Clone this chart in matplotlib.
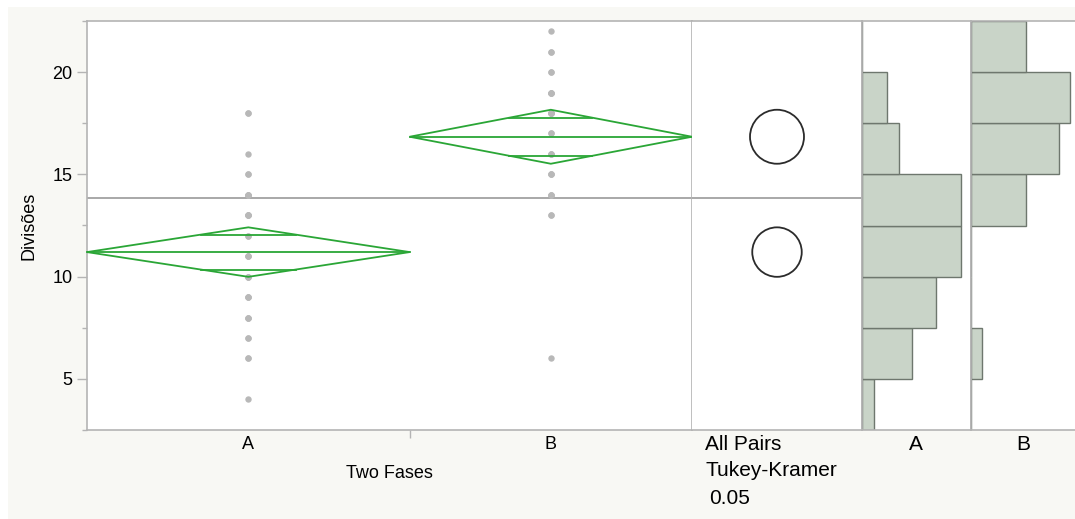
import numpy as np
import matplotlib
matplotlib.use("Agg")
import matplotlib.pyplot as plt
from matplotlib.patches import Polygon, Circle, Rectangle

plt.rcParams['font.family'] = ['Liberation Sans', 'DejaVu Sans']

# ---------------- data ----------------
groups = ["A", "B"]
values_A = [4, 6, 6, 7, 7, 8, 8, 8, 9, 9, 9, 10, 10, 10, 11, 11, 11, 12, 12,
            13, 13, 13, 13, 14, 14, 14, 14, 15, 15, 16, 18, 18]
values_B = [6, 13, 13, 14, 14, 14, 15, 15, 15, 16, 16, 16, 17, 17,
            18, 18, 18, 18, 18, 19, 19, 19, 19, 20, 20, 21, 21, 22]
means = [11.2, 16.84]
ci_half = [1.21, 1.32]
grand_mean = 13.84
yticks = [5, 10, 15, 20]
hist_bins = [2.5, 5, 7.5, 10, 12.5, 15, 17.5, 20, 22.5]
ylim = (2.5, 22.5)

# ---------------- layout ----------------
W, H = 1075, 519
fig = plt.figure(figsize=(W / 100, H / 100), dpi=100, facecolor="white")
fig.patches.append(Rectangle((8 / W, 0), 1, 1 - 7 / H, transform=fig.transFigure,
                             facecolor="#f8f8f4", edgecolor="none", zorder=-10))


def rect(x0, x1, y0, y1):
    return [x0 / W, 1 - y1 / H, (x1 - x0) / W, (y1 - y0) / H]


spine_col = "#b4b4b4"
green = "#2aa636"
pt_col = "#b8b8b8"
bar_face = "#c9d4c8"
bar_edge = "#6e776e"

ax = fig.add_axes(rect(87, 692, 21, 430))
axc = fig.add_axes(rect(692, 862, 21, 430))
axa = fig.add_axes(rect(862, 971, 21, 430))
axb = fig.add_axes(rect(971, 1080, 21, 430))

for a in (ax, axc, axa, axb):
    a.set_ylim(*ylim)
    a.set_facecolor("white")
    for s in a.spines.values():
        s.set_color(spine_col)
        s.set_linewidth(1.2)

# ---------------- main panel ----------------
data = [values_A, values_B]
ns = [len(v) for v in data]
edges = np.concatenate([[0], np.cumsum(ns)])
centers = (edges[:-1] + edges[1:]) / 2
ax.set_xlim(0, edges[-1])

for i, vals in enumerate(data):
    ax.plot(np.full(len(vals), centers[i]), vals, "o", color=pt_col,
            markersize=4.6, markeredgewidth=0, zorder=2)
    x0, x1, xc = edges[i], edges[i + 1], centers[i]
    m, h = means[i], ci_half[i]
    poly = Polygon([(x0, m), (xc, m + h), (x1, m), (xc, m - h)], closed=True,
                   fill=False, edgecolor=green, linewidth=1.3, zorder=3, clip_on=False)
    ax.add_patch(poly)
    ax.plot([x0, x1], [m, m], color=green, linewidth=1.3, zorder=3, clip_on=False)
    f = 1 - 1 / np.sqrt(2)
    for sgn in (1, -1):
        yy = m + sgn * h / np.sqrt(2)
        ax.plot([xc - f * (xc - x0), xc + f * (x1 - xc)], [yy, yy], color=green,
                linewidth=1.3, zorder=3)

ax.axhline(grand_mean, color="#9a9a9a", linewidth=1.2, zorder=1)

ax.set_yticks(yticks)
ax.set_yticks([7.5, 12.5, 17.5, 2.5, 22.5], minor=True)
ax.tick_params(axis="y", which="major", length=7, width=1, color=spine_col,
               labelsize=13, pad=3.5)
ax.tick_params(axis="y", which="minor", length=3.6, width=1, color=spine_col)
ax.set_xticks(centers)
ax.set_xticklabels(groups)
ax.set_xticks([edges[1]], minor=True)
ax.tick_params(axis="x", which="major", length=0, labelsize=13, pad=4)
ax.tick_params(axis="x", which="minor", length=6, width=1, color=spine_col)
ax.set_ylabel("Divisões", fontsize=13, labelpad=11)
ax.set_xlabel("Two Fases", fontsize=13, labelpad=9)

# ---------------- comparison circles ----------------
px_per_unit = (430 - 21) / (ylim[1] - ylim[0])
xw = (862 - 692) / px_per_unit
axc.set_xlim(0, xw)
for i in range(len(groups)):
    axc.add_patch(Circle((xw / 2, means[i]), ci_half[i], fill=False,
                         edgecolor="#2b2b2b", linewidth=1.3, zorder=3))
axc.axhline(grand_mean, color="#9a9a9a", linewidth=1.2, zorder=1)
axc.set_xticks([])
axc.set_yticks([])
axc.spines["left"].set_visible(False)

# ---------------- histograms ----------------
for a, vals, xmax in ((axa, values_A, 8.8), (axb, values_B, 9.9)):
    counts, be = np.histogram(vals, bins=hist_bins)
    a.barh(be[:-1], counts, height=np.diff(be), align="edge", color=bar_face,
           edgecolor=bar_edge, linewidth=1.0, zorder=2)
    a.set_xlim(0, xmax)
    a.set_xticks([])
    a.set_yticks([])
axb.spines["right"].set_visible(False)

# ---------------- bottom labels ----------------
fig.text(705 / W, 1 - 444 / H, "All Pairs", fontsize=15, va="center", ha="left")
fig.text(705 / W, 1 - 471 / H, "Tukey-Kramer", fontsize=15, va="center", ha="left")
fig.text(709 / W, 1 - 498 / H, "0.05", fontsize=15, va="center", ha="left")
fig.text(916 / W, 1 - 444 / H, "A", fontsize=15, va="center", ha="center")
fig.text(1023 / W, 1 - 444 / H, "B", fontsize=15, va="center", ha="center")

fig.savefig("out.png", dpi=100, facecolor=fig.get_facecolor())
